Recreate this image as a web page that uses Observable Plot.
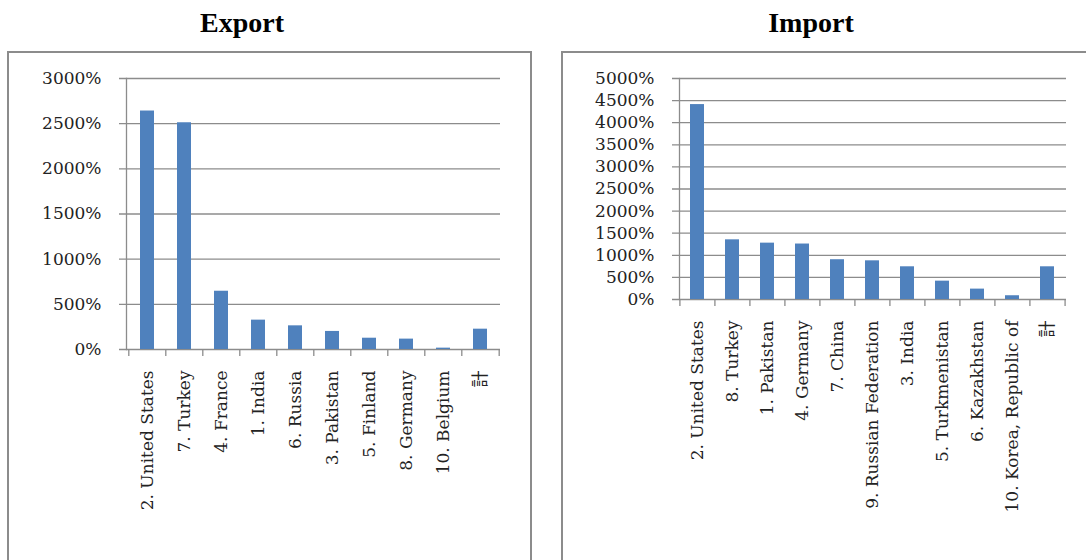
<!DOCTYPE html>
<html>
<head>
<meta charset="utf-8">
<script src="https://cdn.jsdelivr.net/npm/d3@7"></script>
<script src="https://cdn.jsdelivr.net/npm/@observablehq/plot@0.6"></script>
<style>
  html, body { margin: 0; padding: 0; background: #fff; width: 1086px; height: 560px; overflow: hidden; position: relative; }
  .title { position: absolute; top: 9px; font-family: "Liberation Serif", "Times New Roman", serif; font-weight: bold; font-size: 28px; line-height: 28px; color: #000; text-align: center; }
  .box { position: absolute; top: 51px; border: 2px solid #8c8c8c; background: #fff; }
  .chart { position: absolute; top: 53px; }
</style>
</head>
<body>
<div class="title" style="left:142px;width:200px;">Export</div>
<div class="title" style="left:711px;width:200px;">Import</div>
<div class="box" style="left:7px;width:521px;height:560px;"></div>
<div class="box" style="left:561px;width:560px;height:560px;"></div>
<div class="chart" id="exp" style="left:9px;width:521px;"></div>
<div class="chart" id="imp" style="left:563px;width:523px;"></div>
<script>
// ---- data ----
const exportCats = ["2. United States", "7. Turkey", "4. France", "1. India", "6. Russia", "3. Pakistan", "5. Finland", "8. Germany", "10. Belgium", "計"];
const exportVals = [2640, 2510, 645, 325, 262, 200, 125, 115, 15, 225];
const exportTicks = [0, 500, 1000, 1500, 2000, 2500, 3000];

const importCats = ["2. United States", "8. Turkey", "1. Pakistan", "4. Germany", "7. China", "9. Russian Federation", "3. India", "5. Turkmenistan", "6. Kazakhstan", "10. Korea, Republic of", "計"];
const importVals = [4410, 1350, 1275, 1255, 900, 875, 740, 415, 235, 85, 740];
const importTicks = [0, 500, 1000, 1500, 2000, 2500, 3000, 3500, 4000, 4500, 5000];

const BAR = "#4F81BD";
const GRID = "#8c8c8c";
const FONT = "'DejaVu Serif', 'Noto Sans CJK JP', serif";

function makeChart({cats, vals, ticks, ymax, width, height, ml, mr, mt, mb, padInner}) {
  const data = cats.map((c, i) => ({cat: c, val: vals[i]}));
  const step = (width - ml - mr) / cats.length;
  return Plot.plot({
    width, height,
    marginLeft: ml, marginRight: mr, marginTop: mt, marginBottom: mb,
    style: {fontFamily: FONT, fontSize: "17px", color: "#222", background: "white", overflow: "visible"},
    x: {type: "band", domain: cats, paddingInner: padInner, paddingOuter: padInner / 2, axis: null, label: null},
    y: {domain: [0, ymax], axis: null, label: null},
    marks: [
      Plot.ruleY(ticks, {y: d => d, stroke: GRID, strokeWidth: 1.3, insetLeft: -7}),
      Plot.frame({anchor: "left", stroke: GRID, strokeWidth: 1.3}),
      Plot.ruleX(cats, {x: d => d, y1: 0, y2: 0, insetBottom: -7, dx: -step / 2, stroke: GRID, strokeWidth: 1.3}),
      Plot.ruleX([cats[cats.length - 1]], {x: d => d, y1: 0, y2: 0, insetBottom: -7, dx: step / 2, stroke: GRID, strokeWidth: 1.3}),
      Plot.barY(data, {x: "cat", y: "val", fill: BAR}),
      Plot.axisY(ticks, {tickSize: 0, tickPadding: 25, tickFormat: d => d + "%", fontSize: 17, fill: "#222", label: null}),
      Plot.axisX({tickSize: 0, tickPadding: 21, tickRotate: -90, fontSize: 17, fill: "#222", label: null})
    ]
  });
}

document.getElementById("exp").appendChild(makeChart({
  cats: exportCats, vals: exportVals, ticks: exportTicks, ymax: 3000,
  width: 521, height: 507, ml: 117, mr: 30, mt: 25, mb: 211, padInner: 0.626
}));
document.getElementById("imp").appendChild(makeChart({
  cats: importCats, vals: importVals, ticks: importTicks, ymax: 5000,
  width: 523, height: 507, ml: 116, mr: 20, mt: 25, mb: 261, padInner: 0.59
}));
</script>
</body>
</html>
